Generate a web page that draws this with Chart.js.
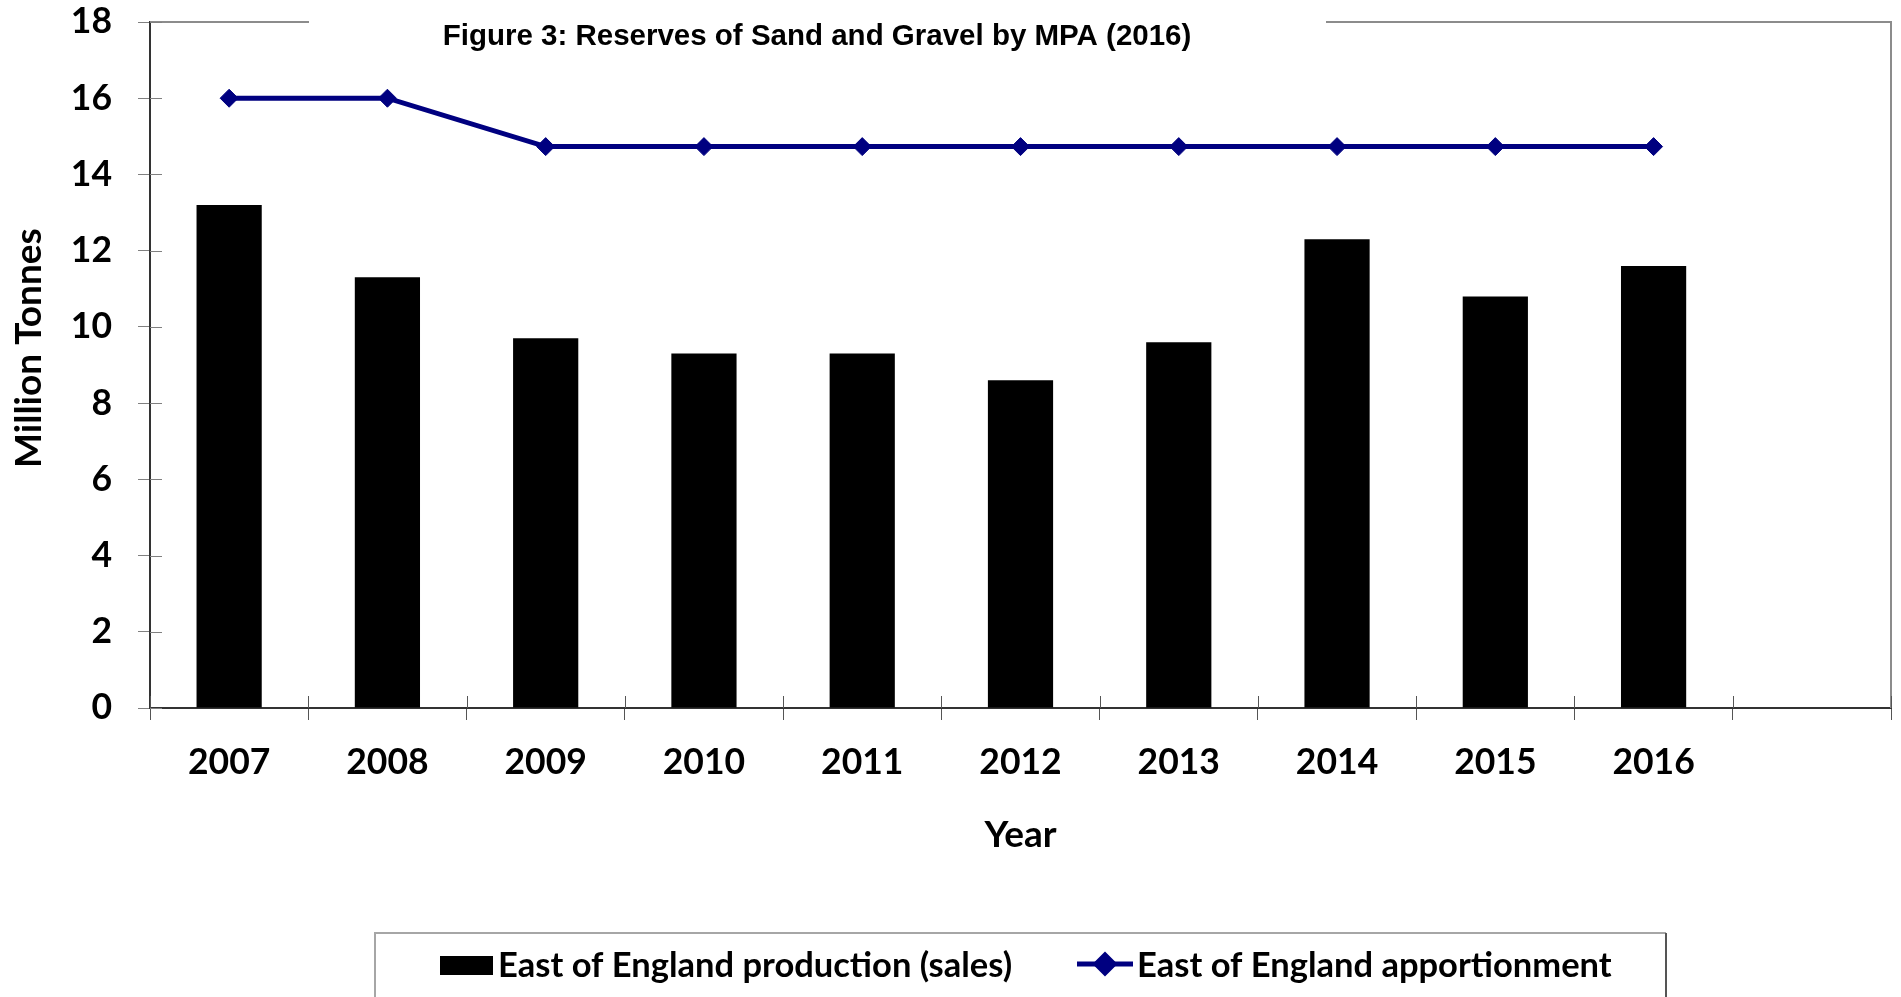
<!DOCTYPE html>
<html>
<head>
<meta charset="utf-8">
<title>Figure 3: Reserves of Sand and Gravel by MPA (2016)</title>
<script src="https://cdn.jsdelivr.net/npm/chart.js@4.4.1/dist/chart.umd.min.js"></script>
<style>
    html, body { margin: 0; padding: 0; background: #fff; }
    #wrap { position: relative; width: 1901px; height: 997px; }
</style>
</head>
<body>
<div id="wrap"><canvas id="chart"></canvas></div>
<script>
// Data (million tonnes)
const years = ['2007', '2008', '2009', '2010', '2011', '2012', '2013', '2014', '2015', '2016', ''];
const production = [13.2, 11.3, 9.7, 9.3, 9.3, 8.6, 9.6, 12.3, 10.8, 11.6, null];
const apportionment = [16, 16, 14.73, 14.73, 14.73, 14.73, 14.73, 14.73, 14.73, 14.73, null];
const yTicks = [0, 2, 4, 6, 8, 10, 12, 14, 16, 18];

const chartTitle = 'Figure 3: Reserves of Sand and Gravel by MPA (2016)';
const yTitle = 'Million Tonnes';
const xTitle = 'Year';

const NAVY = '#000080';
const FONT = 'Lato';

// Frame, inner tick marks, title box, y title and boxed legend
const decorPlugin = {
    id: 'decor',
    beforeDatasetsDraw(chart) {
        const { ctx, chartArea: a, scales } = chart;
        ctx.save();

        // top and right edge of the plot area
        ctx.strokeStyle = '#8c8c8c';
        ctx.lineWidth = 2;
        ctx.beginPath();
        ctx.moveTo(a.left, a.top);
        ctx.lineTo(a.right, a.top);
        ctx.lineTo(a.right, a.bottom);
        ctx.stroke();

        // tick marks cross the axes, draw the inner halves
        ctx.lineWidth = 1;
        ctx.strokeStyle = '#808080';
        scales.y.ticks.forEach(t => {
            const y = Math.round(scales.y.getPixelForValue(t.value)) + 0.5;
            ctx.beginPath();
            ctx.moveTo(a.left, y);
            ctx.lineTo(a.left + 12, y);
            ctx.stroke();
        });
        ctx.strokeStyle = '#555';
        const n = scales.x.ticks.length;
        const step = scales.x.getPixelForTick(1) - scales.x.getPixelForTick(0);
        for (let i = 0; i <= n; i++) {
            const x = Math.round(scales.x.getPixelForTick(0) + (i - 0.5) * step) + 0.5;
            ctx.beginPath();
            ctx.moveTo(x, a.bottom);
            ctx.lineTo(x, a.bottom - 12);
            ctx.stroke();
        }

        // title sits in a white box over the top edge
        ctx.fillStyle = '#fff';
        ctx.fillRect(309, 12, 1017, 22);
        ctx.fillStyle = '#000';
        ctx.font = 'bold 29.5px "Liberation Sans", Arial, sans-serif';
        ctx.textAlign = 'center';
        ctx.textBaseline = 'alphabetic';
        ctx.fillText(chartTitle, 817, 45);

        ctx.restore();
    },
    afterDraw(chart) {
        const { ctx } = chart;
        const ds = chart.data.datasets;
        ctx.save();

        // y axis title
        ctx.translate(29, 348);
        ctx.rotate(-Math.PI / 2);
        ctx.fillStyle = '#000';
        ctx.font = 'bold 37px ' + FONT;
        ctx.textAlign = 'center';
        ctx.textBaseline = 'middle';
        ctx.fillText(yTitle, 0, 0);
        ctx.setTransform(1, 0, 0, 1, 0, 0);

        // legend box (runs off the bottom of the picture)
        ctx.lineWidth = 2;
        ctx.strokeStyle = '#a6a6a6';
        ctx.beginPath();
        ctx.moveTo(375, 1000);
        ctx.lineTo(375, 933);
        ctx.lineTo(1666, 933);
        ctx.stroke();
        ctx.strokeStyle = '#555';
        ctx.beginPath();
        ctx.moveTo(1666, 933);
        ctx.lineTo(1666, 1000);
        ctx.stroke();

        ctx.font = 'bold 34.5px ' + FONT;
        ctx.textAlign = 'left';
        ctx.textBaseline = 'alphabetic';

        // bar series
        const bar = ds.find(d => d.type === 'bar');
        ctx.fillStyle = bar.backgroundColor;
        ctx.fillRect(440, 956, 53, 19);
        ctx.fillStyle = '#000';
        ctx.fillText(bar.label, 498, 977);

        // line series
        const line = ds.find(d => d.type === 'line');
        ctx.strokeStyle = line.borderColor;
        ctx.lineWidth = line.borderWidth;
        ctx.beginPath();
        ctx.moveTo(1077, 964);
        ctx.lineTo(1133, 964);
        ctx.stroke();
        ctx.fillStyle = line.pointBackgroundColor;
        Chart.helpers.drawPoint(ctx, { pointStyle: 'rectRot', radius: line.pointRadius, borderWidth: 1, rotation: 0 }, 1105, 964);
        ctx.fill();
        ctx.fillStyle = '#000';
        ctx.fillText(line.label, 1137, 977);

        ctx.restore();
    }
};

const ctx = document.getElementById('chart').getContext('2d');
new Chart(ctx, {
    data: {
        labels: years,
        datasets: [
            {
                type: 'line',
                label: 'East of England apportionment',
                data: apportionment,
                borderColor: NAVY,
                borderWidth: 5,
                pointStyle: 'rectRot',
                pointRadius: 9,
                pointBorderWidth: 1,
                pointBackgroundColor: NAVY,
                pointBorderColor: NAVY,
                tension: 0,
                order: 0
            },
            {
                type: 'bar',
                label: 'East of England production (sales)',
                data: production,
                backgroundColor: '#000',
                borderWidth: 0,
                barPercentage: 1,
                categoryPercentage: 0.412,
                order: 1
            }
        ]
    },
    options: {
        responsive: true,
        maintainAspectRatio: false,
        animation: false,
        layout: { padding: { top: 22, right: 9, left: 0, bottom: 0 } },
        plugins: {
            legend: { display: false },
            title: { display: false },
            tooltip: { enabled: false }
        },
        scales: {
            x: {
                offset: true,
                grid: { offset: true, drawOnChartArea: false, drawTicks: true, tickLength: 12, color: '#555' },
                border: { display: true, color: '#333', width: 2 },
                ticks: { color: '#000', padding: 21, font: { family: FONT, size: 35.5, weight: 'bold' }, maxRotation: 0, autoSkip: false },
                title: { display: true, text: xTitle, color: '#000', font: { family: FONT, size: 37, weight: 'bold' }, padding: { top: 0, bottom: 140 } },
                afterFit(scale) {
                    scale.height = 289;
                    scale.paddingLeft = 0;
                    scale.paddingRight = 0;
                }
            },
            y: {
                min: 0,
                max: 18,
                afterBuildTicks(scale) { scale.ticks = yTicks.map(v => ({ value: v })); },
                grid: { drawOnChartArea: false, drawTicks: true, tickLength: 12, color: '#808080' },
                border: { display: true, color: '#333', width: 2 },
                ticks: { color: '#000', padding: 26, font: { family: FONT, size: 35.5, weight: 'bold' } },
                afterFit(scale) {
                    scale.width = 150;
                    scale.paddingTop = 0;
                    scale.paddingBottom = 0;
                }
            }
        }
    },
    plugins: [decorPlugin]
});
</script>
</body>
</html>
